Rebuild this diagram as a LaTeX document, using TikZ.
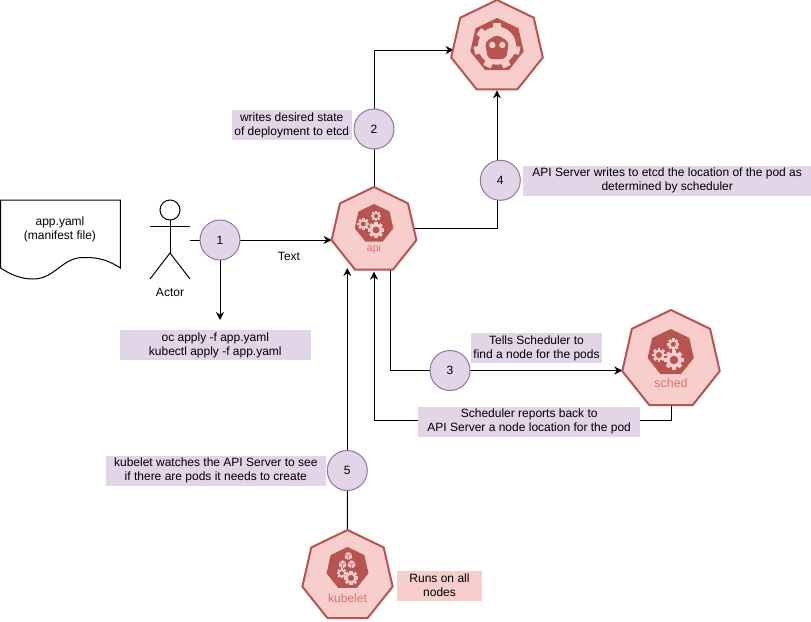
\documentclass[tikz,border=0pt]{standalone}
\usepackage{fontspec}
\setmainfont{Liberation Sans}
\usetikzlibrary{positioning,arrows.meta,shapes.geometric,backgrounds,calc}
\definecolor{hubRed}{HTML}{B85450}
\definecolor{paleRed}{HTML}{F8CECC}
\definecolor{labelRed}{HTML}{D9736E}
\definecolor{ringViolet}{HTML}{9673A6}
\definecolor{paleViolet}{HTML}{E1D5E7}
\tikzset{
  hub/.style={regular polygon, regular polygon sides=7, draw=hubRed, fill=paleRed,
              line width=2pt, inner sep=0pt, outer sep=0pt, line join=round},
  hubicon/.style={regular polygon, regular polygon sides=7, fill=hubRed,
                  inner sep=0pt, outer sep=0pt},
  hublabel/.style={text=labelRed, inner sep=0pt},
  stepcircle/.style={circle, draw=ringViolet, fill=paleViolet, line width=1pt,
                     minimum size=40pt, inner sep=0pt, outer sep=0pt},
  notebox/.style={rectangle, fill=paleViolet, minimum height=30pt, align=center,
                  inner sep=0pt},
  plain/.style={align=center, inner sep=0pt},
  link/.style={line width=1pt, draw=black},
  flow/.style={-{Stealth[length=8pt,width=8pt]}, line width=1pt, draw=black},
  actorline/.style={line width=1pt, draw=black},
  pics/gear/.style={code={
    \foreach \t in {0,45,...,315}
      \fill[paleRed, rotate=\t] (-.27,.75) rectangle (.27,1.3);
    \fill[paleRed, even odd rule] (0,0) circle (1) circle (.58);
  }},
  pics/cube/.style={code={
    \fill[paleRed] (0,-1) -- (.87,-.5) -- (.87,.5) -- (0,1) -- (-.87,.5) -- (-.87,-.5) -- cycle;
    \draw[hubRed, line width=.5pt] (-.87,-.5) -- (0,0) -- (.87,-.5) (0,0) -- (0,1);
  }}
}
\begin{document}
\begin{tikzpicture}[x=1pt,y=-1pt,font=\fontsize{12}{14}\selectfont]
\useasboundingbox (0,0) rectangle (811,621);

% control plane
\node[hub, minimum size=87pt] (api) at (374,230.5) {};
\node[hub, minimum size=94pt] (etcd) at (497,47) {};
\node[hub, minimum size=100pt] (sched) at (671,360) {};
\node[hub, minimum size=92.6pt] (kubelet) at (347.5,576.3) {};

\node[hubicon, minimum size=39.6pt] (apiicon) at (374,223.8) {};
\pic[scale=6.2] at (376,230) {gear};
\pic[scale=3.9] at (376,216) {gear};
\pic[scale=4.6] at (363.3,224) {gear};
\node[hublabel, font=\fontsize{10.5}{12}\selectfont] (apilabel) at (374,248.5) {api};

\node[hubicon, minimum size=47.4pt] (schedicon) at (670.7,352.7) {};
\pic[scale=7.6] at (674,360) {gear};
\pic[scale=4.6] at (673.3,344.3) {gear};
\pic[scale=5.4] at (659,355) {gear};
\node[hublabel, font=\fontsize{12.5}{14}\selectfont] (schedlabel) at (671,382.7) {sched};

\node[hubicon, minimum size=43pt] (kubeleticon) at (347.5,568.5) {};
\pic[scale=4] at (348.3,556) {cube};
\pic[scale=4] at (342.7,564.3) {cube};
\pic[scale=4] at (351.7,564.3) {cube};
\pic[scale=5.6] at (351,578) {gear};
\pic[scale=3.9] at (341.7,573.3) {gear};
\node[hublabel] (kubeletlabel) at (347.5,598.3) {kubelet};

% etcd face
\node[hubicon, minimum size=54.8pt] (etcdicon) at (497,45.4) {};
\foreach \t in {0,51.4,...,308}
  \fill[paleRed, rotate around={\t:(497,45.7)}] (493,22.5) rectangle (501,30);
\node[circle, fill=paleRed, minimum size=38pt, inner sep=0pt] (etcdgear) at (497,45.7) {};
\fill[hubRed, rounded corners=4pt] (497,34.5) -- (509,42) -- (506,59) -- (488,59) -- (485,42) -- cycle;
\node[circle, fill=paleRed, minimum size=6.4pt, inner sep=0pt] (lefteye) at (492.3,45) {};
\node[circle, fill=paleRed, minimum size=6.4pt, inner sep=0pt] (righteye) at (502.3,45) {};

% steps
\node[stepcircle] (one) at (220,240) {1};
\node[stepcircle, above=38pt of api] (two) {2};
\node[stepcircle] (three) at (450,370.5) {3};
\node[stepcircle] (four) at (500.3,180.3) {4};
\node[stepcircle] (five) at (347.3,470.5) {5};

% notes
\node[notebox, minimum width=190.5pt] (applynote) at (215.3,345.3) {oc apply -f app.yaml\\kubectl apply -f app.yaml};
\node[notebox, minimum width=120pt] (desirednote) at (291.7,125) {writes desired state\\of deployment to etcd};
\node[notebox, minimum width=287.7pt] (locationnote) at (667.2,180.5) {API Server writes to etcd the location of the pod as\\determined by scheduler};
\node[notebox, minimum width=130.4pt] (tellsnote) at (536.5,348.3) {Tells Scheduler to\\find a node for the pods};
\node[notebox, minimum width=222.3pt] (reportnote) at (529.2,421.7) {Scheduler reports back to\\API Server a node location for the pod};
\node[notebox, minimum width=220.5pt] (watchnote) at (215.8,470.5) {kubelet watches the API Server to see\\if there are pods it needs to create};
\node[notebox, minimum width=84.4pt, fill=paleRed] (runsnote) at (439.5,585.5) {Runs on all\\nodes};

% manifest and actor
\draw[actorline, fill=white] (0.5,200) -- (120.3,200) -- (120.3,268)
  .. controls (105,258) and (95,257.5) .. (83,257.5)
  .. controls (62,257.5) and (55,279) .. (33,279)
  .. controls (20,279) and (10,274) .. (0.5,268) -- cycle;
\node[plain] (manifest) at (60,229) {app.yaml\\(manifest file)};

\node[circle, draw, line width=1pt, minimum size=20pt, inner sep=0pt, outer sep=0pt] (head) at (170,210) {};
\coordinate (hip) at (170,253);
\coordinate (armleft) at (150,226.7);
\coordinate (armright) at (190,226.7);
\coordinate (footleft) at (150,279);
\coordinate (footright) at (190,279);
\coordinate (actorhand) at (190,240);
\draw[actorline] (head) -- (hip);
\draw[actorline] (armleft) -- (armright);
\draw[actorline] (footleft) -- (hip) -- (footright);
\node[plain] (actor) at (170,292.5) {Actor};

\coordinate (reportturn) at (374,420);

\begin{scope}[on background layer]
\draw[link] (actorhand) -- (one);
\draw[flow] (one) -- (one -| api.corner 3);
\draw[flow] (one) -- (one |- 0,320);
\draw[link] (api.north) -- (two);
\draw[flow] (two) |- ([yshift=-3pt]etcd.west);
\draw[link] ([yshift=2pt]api.east) -| (four.south -| etcd.south);
\draw[flow] (four.north -| etcd.south) -- ([yshift=-1pt]etcd.south);
\draw[link] ([xshift=16.3pt]api.south) |- (three);
\draw[flow] (three) -- (three -| sched.corner 3);
\draw[flow] (sched.south) |- (reportturn) -- ([yshift=-2pt]api.south);
\draw[link] (kubelet.north) -- (five);
\draw[flow] (five) -- (five |- 0,268);
\end{scope}

\node[plain] (textlabel) at (289,256) {Text};
\end{tikzpicture}
\end{document}
